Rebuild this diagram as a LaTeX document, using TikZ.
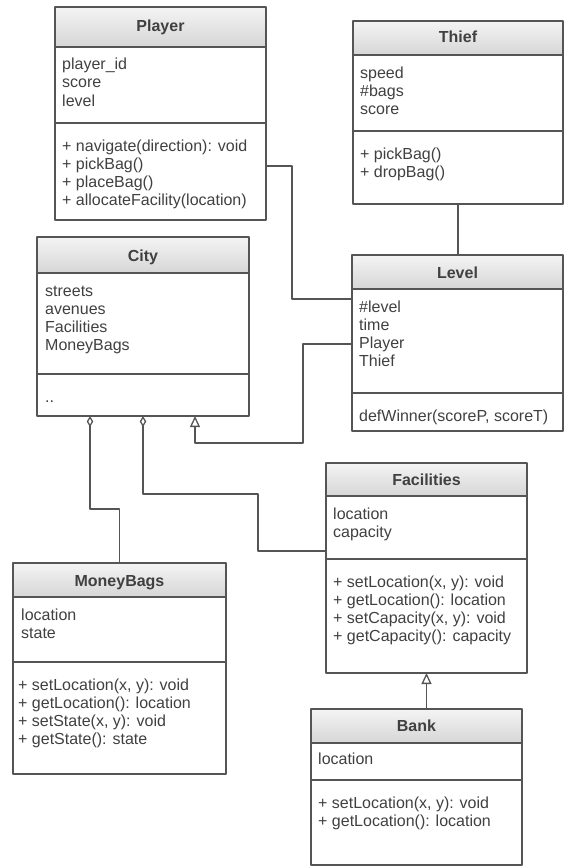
\documentclass[tikz,border=0pt]{standalone}
\usepackage{fontspec}
\setmainfont{Liberation Sans}
\usetikzlibrary{arrows.meta}
\usetikzlibrary{positioning}

\definecolor{linegray}{HTML}{555555}
\definecolor{txtgray}{HTML}{404040}
\definecolor{hdrtop}{HTML}{F4F4F4}
\definecolor{hdrbot}{HTML}{D6D6D6}

\tikzset{
  cls/.style={draw=linegray, line width=1.3pt, anchor=north west, inner sep=0pt, outer sep=0pt},
  hdr/.style={top color=hdrtop, bottom color=hdrbot},
  divider/.style={draw=linegray, line width=1.3pt},
  ttl/.style={anchor=base, text=txtgray, font=\bfseries\fontsize{16}{18}\selectfont},
  txt/.style={anchor=base west, inner sep=0pt, text=txtgray, font=\fontsize{16}{18}\selectfont},
  conn/.style={draw=linegray, line width=1.3pt},
  gen/.style={conn, -{Triangle[open, width=10pt, length=11pt]}},
  agg/.style={conn, {Diamond[open, width=6.5pt, length=11pt]}-},
}

\begin{document}
\begin{tikzpicture}[x=1pt,y=-1pt,line cap=round,line join=round]
\useasboundingbox (0,0) rectangle (564,867);

% Player
\shade[hdr] (55,7) rectangle (266,47);
\node[cls, minimum width=211pt, minimum height=213pt] (player) at (55,7) {};
\draw[divider] (55,47) -- (266,47);
\draw[divider] (55,123) -- (266,123);
\node[ttl] at (160.5,32) {Player};
\foreach \t [count=\i] in {player\_id, score, level}
  \node[txt] at (62,52+18*\i) {\t};
\foreach \t [count=\i] in {+ navigate(direction): void, + pickBag(), + placeBag(), + allocateFacility(location)}
  \node[txt] at (62,133+18*\i) {\t};

% Thief
\shade[hdr] (353,21) rectangle (563,55);
\node[cls, minimum width=210pt, minimum height=183pt] (thief) at (353,21) {};
\draw[divider] (353,55) -- (563,55);
\draw[divider] (353,131) -- (563,131);
\node[ttl] at (458,43) {Thief};
\foreach \t [count=\i] in {speed, \#bags, score}
  \node[txt] at (360,60+18*\i) {\t};
\foreach \t [count=\i] in {+ pickBag(), + dropBag()}
  \node[txt] at (360,141+18*\i) {\t};

% City
\shade[hdr] (37,237) rectangle (249,273);
\node[cls, minimum width=212pt, minimum height=179pt] (city) at (37,237) {};
\draw[divider] (37,273) -- (249,273);
\draw[divider] (37,374) -- (249,374);
\node[ttl] at (143,261) {City};
\foreach \t [count=\i] in {streets, avenues, Facilities, MoneyBags}
  \node[txt] at (45,278+18*\i) {\t};
\node[txt] at (45,402) {..};

% Level
\shade[hdr] (352,255) rectangle (563,289);
\node[cls, minimum width=211pt, minimum height=176pt] (level) at (352,255) {};
\draw[divider] (352,289) -- (563,289);
\draw[divider] (352,393) -- (563,393);
\node[ttl] at (457.5,278) {Level};
\foreach \t [count=\i] in {\#level, time, Player, Thief}
  \node[txt] at (359,294+18*\i) {\t};
\node[txt] at (359,421) {defWinner(scoreP, scoreT)};

% Facilities
\shade[hdr] (326,463) rectangle (527,496);
\node[cls, minimum width=201pt, minimum height=210pt] (facilities) at (326,463) {};
\draw[divider] (326,496) -- (527,496);
\draw[divider] (326,559) -- (527,559);
\node[ttl] at (426.5,485) {Facilities};
\foreach \t [count=\i] in {location, capacity}
  \node[txt] at (333,501+18*\i) {\t};
\foreach \t [count=\i] in {{+ setLocation(x, y): void}, + getLocation(): location, {+ setCapacity(x, y): void}, + getCapacity(): capacity}
  \node[txt] at (333,569+18*\i) {\t};

% MoneyBags
\shade[hdr] (13,563) rectangle (226,597);
\node[cls, minimum width=213pt, minimum height=211pt] (moneybags) at (13,563) {};
\draw[divider] (13,597) -- (226,597);
\draw[divider] (13,662) -- (226,662);
\node[ttl] at (119.5,586) {MoneyBags};
\foreach \t [count=\i] in {location, state}
  \node[txt] at (21,602+18*\i) {\t};
\foreach \t [count=\i] in {{+ setLocation(x, y): void}, + getLocation(): location, {+ setState(x, y): void}, + getState(): state}
  \node[txt] at (18,672+18*\i) {\t};

% Bank
\shade[hdr] (311,709) rectangle (522,743);
\node[cls, minimum width=211pt, minimum height=156pt] (bank) at (311,709) {};
\draw[divider] (311,743) -- (522,743);
\draw[divider] (311,780) -- (522,780);
\node[ttl] at (416.5,731) {Bank};
\node[txt] at (318,764) {location};
\foreach \t [count=\i] in {{+ setLocation(x, y): void}, + getLocation(): location}
  \node[txt] at (318,790+18*\i) {\t};

% connectors
\draw[conn] (player.east |- 0,166) -- (292,166) |- (level.west |- 0,299);
\draw[conn] (thief.south) -- (thief.south |- level.north);
\draw[gen] (level.west |- 0,344) -- (303,344) |- (195,443) -- (city.south -| 195,0);
\draw[agg] (city.south -| 90,0) -- (90,509) -| (moneybags.north);
\draw[agg] (city.south -| 143,0) -- (143,494) -| (258,551) -- (facilities.west |- 0,551);
\draw[gen] (bank.north -| facilities.south) -- (facilities.south);
\end{tikzpicture}
\end{document}
